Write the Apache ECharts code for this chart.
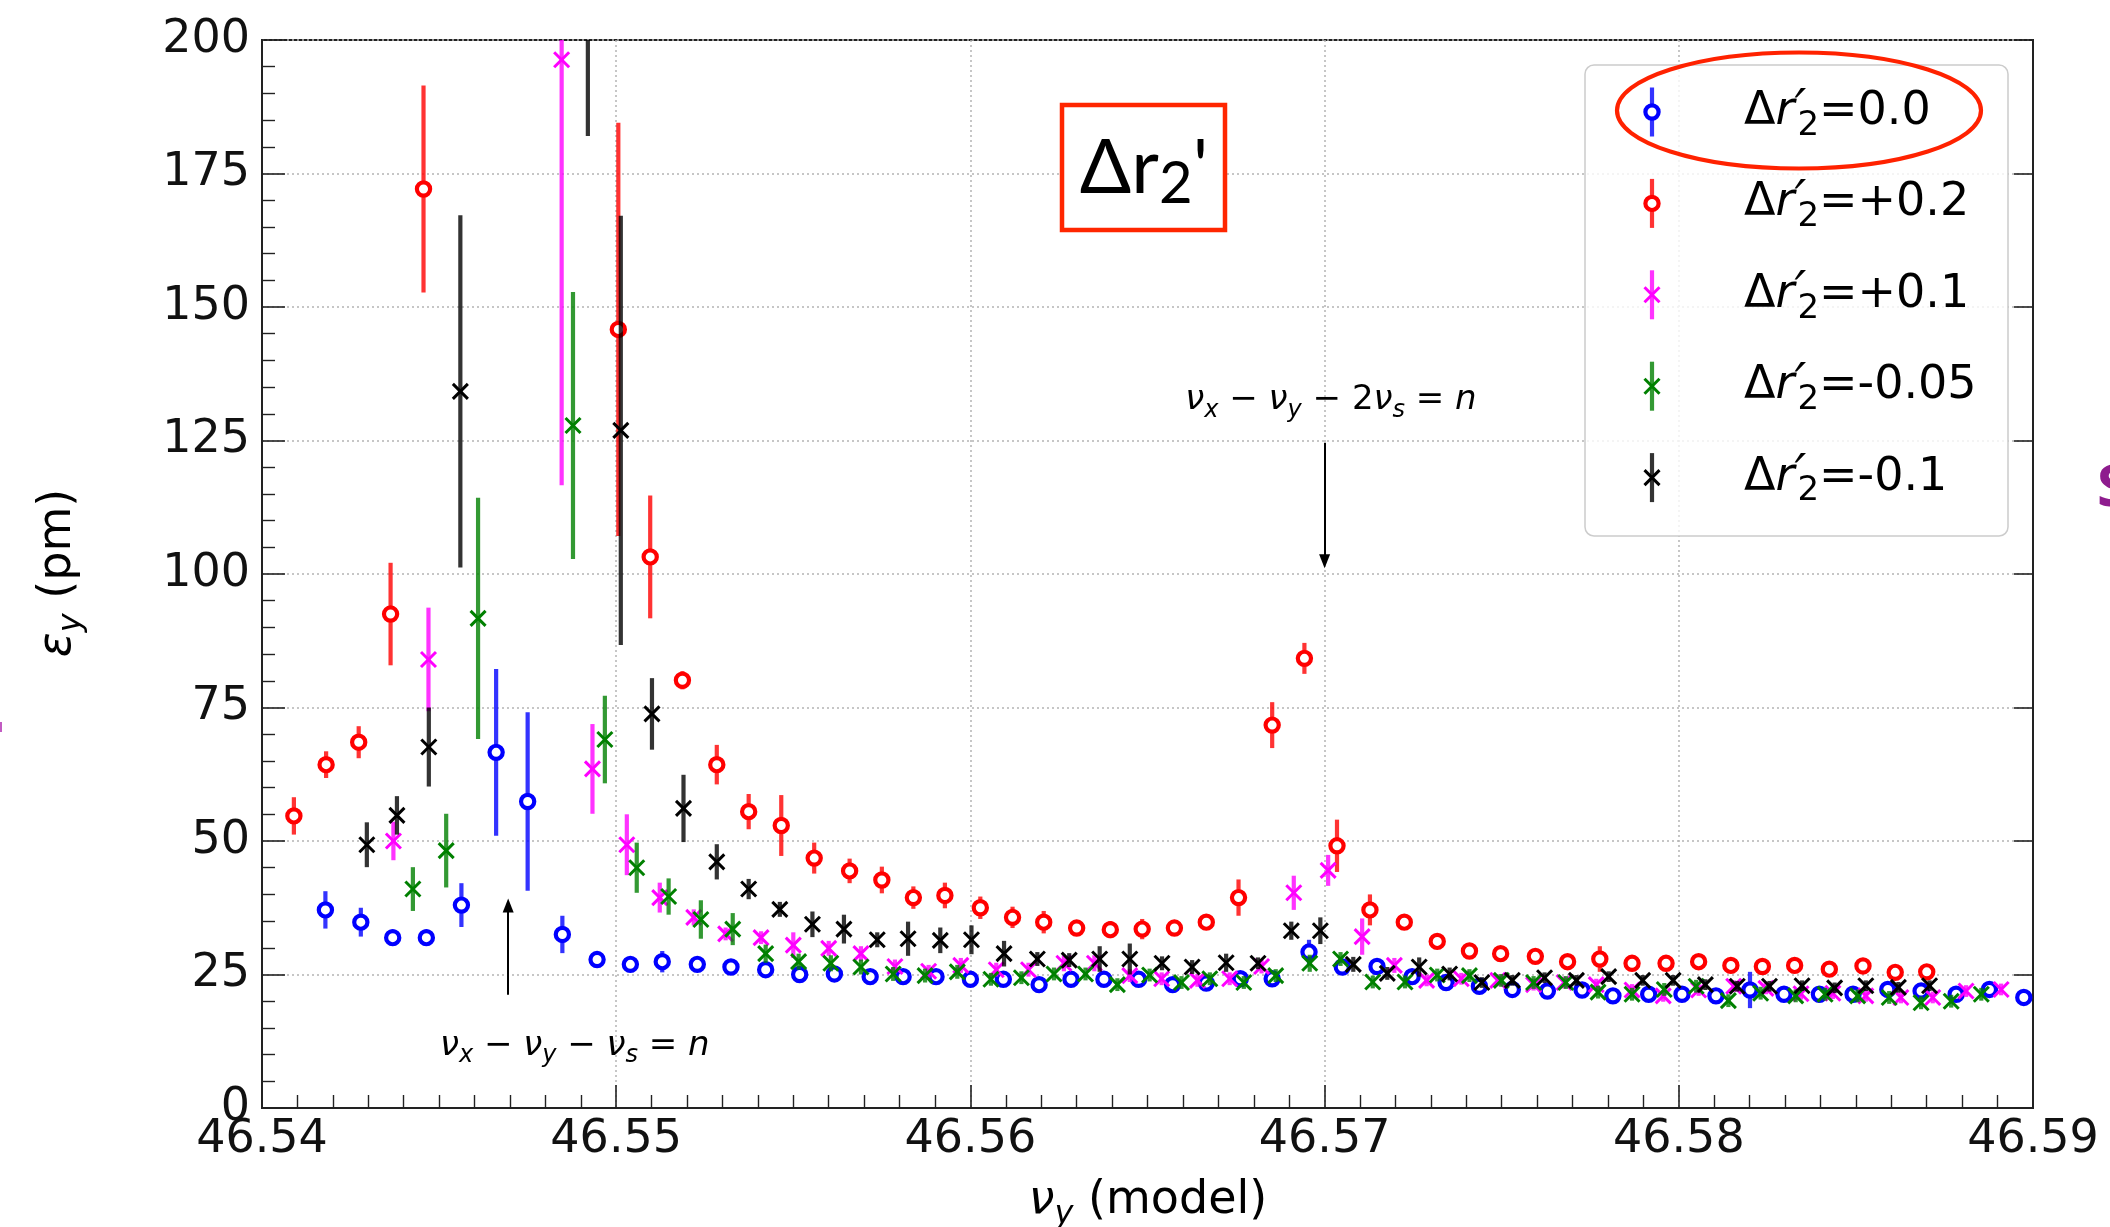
<!DOCTYPE html>
<html>
<head>
<meta charset="utf-8">
<script src="https://cdn.jsdelivr.net/npm/echarts@6/dist/echarts.min.js"></script>
<style>
html,body{margin:0;padding:0;background:#ffffff;}
#c{width:2110px;height:1227px;}
</style>
</head>
<body>
<div id="c"></div>
<script>
// ---------------- data ----------------
const xTickLabels = ['46.54','46.55','46.56','46.57','46.58','46.59'];
const yTickLabels = ['0','25','50','75','100','125','150','175','200'];
const legendLabels = ['0.0','+0.2','+0.1','-0.05','-0.1'];

// Δr2' = 0.0 (blue)
const nuBlue = [46.54179,46.54279,46.54369,46.54464,46.54563,46.54661,46.54750,46.54848,46.54946,46.55040,46.55130,46.55229,46.55324,46.55422,46.55518,46.55616,46.55717,46.55810,46.55903,46.56000,46.56093,46.56194,46.56284,46.56377,46.56475,46.56571,46.56666,46.56762,46.56852,46.56956,46.57050,46.57148,46.57247,46.57343,46.57437,46.57530,46.57629,46.57727,46.57814,46.57915,46.58009,46.58105,46.58201,46.58297,46.58397,46.58492,46.58590,46.58684,46.58783,46.58877,46.58974];
const epsBlue = [37.1,34.8,31.9,31.9,38.0,66.6,57.4,32.5,27.8,26.9,27.4,26.9,26.4,25.9,25.0,25.1,24.6,24.6,24.6,24.1,24.1,23.1,24.1,24.1,24.1,23.1,23.4,24.2,24.2,29.2,26.4,26.5,24.6,23.5,22.8,22.2,21.9,22.1,21.0,21.3,21.3,21.0,22.1,21.3,21.3,21.3,22.2,21.9,21.3,22.2,20.7];
const errBlue = [3.5,2.7,1.5,1.5,4.1,15.6,16.7,3.5,1.2,1.1,2.0,1.1,1.0,1.1,1.1,1.0,1.0,1.0,1.0,1.0,1.0,1.0,1.0,1.0,1.0,1.0,1.0,1.0,1.0,2.3,1.2,1.0,1.0,1.0,1.0,1.0,1.0,1.0,1.0,1.0,1.0,1.0,3.4,1.0,1.0,1.0,1.0,1.0,1.0,1.0,1.0];

// Δr2' = +0.2 (red)
const nuRed = [46.54090,46.54181,46.54273,46.54363,46.54456,46.55006,46.55096,46.55187,46.55284,46.55374,46.55466,46.55559,46.55659,46.55750,46.55839,46.55928,46.56028,46.56119,46.56207,46.56300,46.56395,46.56485,46.56576,46.56666,46.56757,46.56852,46.56943,46.57035,46.57128,46.57225,46.57318,46.57409,46.57497,46.57595,46.57686,46.57777,46.57868,46.57964,46.58056,46.58147,46.58236,46.58327,46.58425,46.58520,46.58611,46.58700];
const epsRed = [54.7,64.3,68.5,92.5,172.1,145.8,103.2,80.1,64.3,55.5,52.9,46.8,44.4,42.7,39.4,39.8,37.5,35.7,34.8,33.7,33.4,33.5,33.7,34.8,39.4,71.7,84.2,49.1,37.1,34.8,31.2,29.4,28.9,28.4,27.4,27.9,27.1,27.1,27.4,26.7,26.5,26.7,26.0,26.6,25.4,25.5];
const errRed = [3.5,2.5,3.0,9.6,19.4,38.7,11.5,1.7,3.7,3.3,5.7,2.9,2.3,2.5,2.1,2.4,2.1,2.0,2.1,1.2,1.6,1.9,1.1,1.3,3.4,4.3,2.9,4.9,2.9,1.2,1.0,1.0,1.1,1.0,1.0,2.4,1.0,1.0,1.0,1.0,1.0,1.0,1.0,1.3,1.0,1.2];

// Δr2' = +0.1 (magenta)
const nuMag = [46.54371,46.54470,46.54846,46.54933,46.55030,46.55123,46.55219,46.55309,46.55409,46.55500,46.55600,46.55691,46.55787,46.55882,46.55973,46.56073,46.56164,46.56264,46.56350,46.56450,46.56540,46.56641,46.56732,46.56822,46.56913,46.57010,46.57106,46.57197,46.57288,46.57386,46.57489,46.57590,46.57676,46.57767,46.57868,46.57956,46.58056,46.58155,46.58246,46.58345,46.58435,46.58528,46.58627,46.58717,46.58811,46.58910];
const epsMag = [50.0,84.0,196.3,63.5,49.3,39.4,35.7,32.6,31.9,30.5,29.9,28.9,26.5,25.6,26.7,25.9,25.9,27.1,27.1,24.8,24.2,23.9,24.2,26.5,40.3,44.5,32.1,26.7,23.9,24.2,23.9,23.1,23.5,23.1,22.1,21.0,22.1,22.8,22.4,21.4,21.5,21.0,20.7,20.7,21.9,22.2];
const errMag = [3.6,9.7,79.7,8.4,5.7,2.8,1.5,1.2,1.2,2.4,1.4,1.4,1.3,1.2,1.4,1.3,1.3,1.5,1.5,1.2,1.2,1.2,1.2,1.3,3.2,2.9,3.4,1.4,1.1,1.1,1.1,1.1,1.1,1.1,1.1,1.1,1.1,1.1,1.1,1.1,1.1,1.1,1.1,1.1,1.1,1.1];

// Δr2' = -0.05 (green)
const nuGreen = [46.54426,46.54520,46.54610,46.54878,46.54968,46.55058,46.55148,46.55239,46.55329,46.55422,46.55515,46.55606,46.55691,46.55782,46.55872,46.55963,46.56058,46.56144,46.56236,46.56325,46.56415,46.56506,46.56596,46.56676,46.56772,46.56862,46.56958,46.57045,46.57136,46.57227,46.57318,46.57409,46.57499,46.57590,46.57681,46.57772,46.57868,46.57959,46.58049,46.58140,46.58231,46.58330,46.58413,46.58505,46.58594,46.58684,46.58769,46.58854];
const epsGreen = [41.0,48.2,91.7,127.8,69.0,45.0,39.6,35.3,33.5,28.9,27.4,27.1,26.4,25.1,24.8,25.5,24.1,24.4,25.1,25.1,23.1,24.9,23.5,24.2,23.5,24.8,27.1,27.9,23.6,23.6,24.9,24.8,23.9,23.5,23.5,21.7,21.3,22.2,22.8,20.1,21.5,21.0,21.3,21.0,20.7,19.7,20.0,21.3];
const errGreen = [4.1,6.9,22.6,25.0,8.2,4.7,3.4,3.6,3.0,1.7,1.5,1.5,1.4,1.3,1.3,1.3,1.2,1.2,1.2,1.2,1.2,1.2,1.2,1.2,1.2,1.2,1.6,1.3,1.2,1.2,1.2,1.2,1.2,1.2,1.2,1.2,1.2,1.2,1.2,1.2,1.2,1.2,1.2,1.2,1.2,1.2,1.2,1.2];

// Δr2' = -0.1 (black)
const nuBlack = [46.54296,46.54381,46.54471,46.54560,46.54920,46.55013,46.55101,46.55190,46.55284,46.55374,46.55462,46.55554,46.55643,46.55737,46.55824,46.55915,46.56003,46.56095,46.56189,46.56279,46.56365,46.56450,46.56541,46.56626,46.56722,46.56812,46.56906,46.56988,46.57081,46.57177,46.57267,46.57353,46.57444,46.57530,46.57621,46.57711,46.57802,46.57898,46.57984,46.58075,46.58165,46.58256,46.58348,46.58440,46.58528,46.58620,46.58708];
const epsBlack = [49.3,54.8,67.6,134.2,220.0,126.9,73.8,56.1,46.1,41.0,37.2,34.4,33.5,31.5,31.7,31.4,31.5,28.9,27.9,27.7,27.9,27.9,27.1,26.4,27.2,27.1,33.2,33.2,26.9,25.2,26.4,25.1,23.5,23.9,24.4,23.9,24.6,23.9,23.9,23.1,22.8,22.8,22.9,22.5,22.9,22.6,22.9];
const errBlack = [4.2,3.6,7.4,33.0,38.0,40.2,6.7,6.3,3.3,1.9,1.4,2.4,2.7,1.4,3.2,2.4,2.7,2.4,1.3,1.3,2.4,2.9,1.3,1.3,1.7,1.1,1.7,2.5,1.4,1.2,1.8,1.2,1.0,1.0,1.0,1.0,1.0,1.0,1.0,1.0,1.0,1.0,1.0,1.0,1.0,1.0,1.0];

// annotation anchors (data coordinates)
const arrow1 = [[46.54695, 21.2], [46.54695, 37.9]];
const arrow2 = [[46.57000, 124.6], [46.57000, 102.4]];
const note1Pos = [46.54883, 11.6];
const note2Pos = [46.57018, 132.5];

// ---------------- chart ----------------
const FONT = '"DejaVu Sans", sans-serif';
const defs = [
  {label: legendLabels[0], nu: nuBlue,  eps: epsBlue,  err: errBlue,  color: '#0000ff', marker: 'o'},
  {label: legendLabels[1], nu: nuRed,   eps: epsRed,   err: errRed,   color: '#ff0000', marker: 'o'},
  {label: legendLabels[2], nu: nuMag,   eps: epsMag,   err: errMag,   color: '#ff00ff', marker: 'x'},
  {label: legendLabels[3], nu: nuGreen, eps: epsGreen, err: errGreen, color: '#008000', marker: 'x'},
  {label: legendLabels[4], nu: nuBlack, eps: epsBlack, err: errBlack, color: '#000000', marker: 'x'}
];

function markerEl(type, cx, cy, color) {
  if (type === 'o') {
    return {type: 'circle', shape: {cx: cx, cy: cy, r: 6.6},
            style: {fill: '#ffffff', stroke: color, lineWidth: 4.2}};
  }
  const h = 7.5;
  return {type: 'group', children: [
    {type: 'line', shape: {x1: cx - h, y1: cy - h, x2: cx + h, y2: cy + h}, style: {stroke: color, lineWidth: 3}},
    {type: 'line', shape: {x1: cx - h, y1: cy + h, x2: cx + h, y2: cy - h}, style: {stroke: color, lineWidth: 3}}
  ]};
}

function makeRender(color, marker) {
  return function (params, api) {
    const x = api.value(0), y = api.value(1), e = api.value(2);
    const c = api.coord([x, y]);
    const t = api.coord([x, y + e]);
    const b = api.coord([x, y - e]);
    return {type: 'group', children: [
      {type: 'line', shape: {x1: c[0], y1: t[1], x2: c[0], y2: b[1]},
       style: {stroke: color, lineWidth: 4.2, opacity: 0.8}},
      markerEl(marker, c[0], c[1], color)
    ]};
  };
}

const series = defs.map(function (d, i) {
  return {
    type: 'custom',
    name: d.label,
    coordinateSystem: 'cartesian2d',
    clip: true,
    renderItem: makeRender(d.color, d.marker),
    encode: {x: 0, y: 1},
    data: d.nu.map(function (v, k) { return [v, d.eps[k], d.err[k]]; }),
    z: 2 + i
  };
});

// arrows as markLine on a helper series
series.push({
  type: 'line', data: [], silent: true,
  markLine: {
    silent: true, animation: false,
    symbol: ['none', 'triangle'], symbolSize: [11, 14],
    label: {show: false},
    lineStyle: {color: '#000000', width: 2, type: 'solid'},
    data: [
      [{coord: arrow1[0]}, {coord: arrow1[1]}],
      [{coord: arrow2[0]}, {coord: arrow2[1]}]
    ]
  },
  z: 10
});

const chart = echarts.init(document.getElementById('c'), null, {renderer: 'canvas'});

const axisLabelStyle = {fontFamily: FONT, fontSize: 46, color: '#111111'};

chart.setOption({
  animation: false,
  backgroundColor: '#ffffff',
  grid: {left: 262, top: 40, width: 1771, height: 1068, show: true,
         borderColor: '#222222', borderWidth: 2, backgroundColor: 'transparent'},
  xAxis: {
    type: 'value', min: 46.54, max: 46.59, interval: 0.01,
    axisLine: {show: true, onZero: false, lineStyle: {color: '#222222', width: 2}},
    axisTick: {show: true, inside: true, length: 23, lineStyle: {color: '#222222', width: 1.6}},
    minorTick: {show: true, splitNumber: 10, length: 13, lineStyle: {color: '#222222', width: 1.4}},
    axisLabel: Object.assign({margin: 9, formatter: function (v) {
      const idx = Math.round((v - 46.54) / 0.01);
      return xTickLabels[idx] !== undefined ? xTickLabels[idx] : v.toFixed(2);
    }}, axisLabelStyle),
    splitLine: {show: true, lineStyle: {color: '#b4b4b4', width: 1.5, type: [2, 3]}},
    minorSplitLine: {show: false}
  },
  yAxis: [{
    type: 'value', min: 0, max: 200, interval: 25,
    axisLine: {show: true, onZero: false, lineStyle: {color: '#222222', width: 2}},
    axisTick: {show: true, inside: true, length: 23, lineStyle: {color: '#222222', width: 1.6}},
    minorTick: {show: true, splitNumber: 5, length: 13, lineStyle: {color: '#222222', width: 1.4}},
    axisLabel: Object.assign({margin: 12, formatter: function (v) {
      const idx = Math.round(v / 25);
      return yTickLabels[idx] !== undefined ? yTickLabels[idx] : String(v);
    }}, axisLabelStyle),
    splitLine: {show: true, lineStyle: {color: '#b4b4b4', width: 1.5, type: [2, 3]}}
  }, {
    type: 'value', min: 0, max: 200, interval: 25, position: 'right',
    axisLine: {show: true, onZero: false, lineStyle: {color: '#222222', width: 2}},
    axisTick: {show: true, inside: true, length: 19, lineStyle: {color: '#222222', width: 1.6}},
    axisLabel: {show: false},
    splitLine: {show: false}
  }],
  series: series
});

// ---------------- decorations: titles, legend, annotations ----------------
const mathRich = {
  n: {fontFamily: FONT, fontSize: 46, color: '#111111', lineHeight: 60},
  i: {fontFamily: FONT, fontSize: 46, fontStyle: 'italic', color: '#111111', lineHeight: 60},
  s: {fontFamily: FONT, fontSize: 32, fontStyle: 'italic', color: '#111111', lineHeight: 36, verticalAlign: 'bottom'}
};

const noteRich = {
  i: {fontFamily: FONT, fontSize: 34, fontStyle: 'italic', color: '#222222', lineHeight: 44},
  n: {fontFamily: FONT, fontSize: 34, color: '#222222', lineHeight: 44},
  s: {fontFamily: FONT, fontSize: 24, fontStyle: 'italic', color: '#222222', lineHeight: 24, verticalAlign: 'bottom'}
};

const legRich = {
  m: {fontFamily: FONT, fontSize: 46, color: '#111111', lineHeight: 62},
  r: {fontFamily: FONT, fontSize: 46, fontStyle: 'italic', color: '#111111', lineHeight: 62},
  p: {fontFamily: FONT, fontSize: 52, fontStyle: 'italic', color: '#111111', lineHeight: 62, width: 3},
  s: {fontFamily: FONT, fontSize: 34, color: '#111111', lineHeight: 34, verticalAlign: 'bottom'}
};

const graphics = [];

// axis titles
graphics.push({
  type: 'text', x: 1148, y: 1201, z: 50,
  style: {text: '{i|ν}{s|y}{n| (model)}', rich: mathRich, align: 'center', verticalAlign: 'middle'}
});
graphics.push({
  type: 'text', x: 58, y: 573, rotation: Math.PI / 2, z: 50,
  style: {text: '{i|ε}{s|y}{n| (pm)}', rich: mathRich, align: 'center', verticalAlign: 'middle'}
});

// annotations
const p1 = chart.convertToPixel({gridIndex: 0}, note1Pos);
const p2 = chart.convertToPixel({gridIndex: 0}, note2Pos);
graphics.push({
  type: 'text', x: p1[0], y: p1[1], z: 50,
  style: {text: '{i|ν}{s|x}{n| − }{i|ν}{s|y}{n| − }{i|ν}{s|s}{n| = }{i|n}', rich: noteRich, align: 'center', verticalAlign: 'middle'}
});
graphics.push({
  type: 'text', x: p2[0], y: p2[1], z: 50,
  style: {text: '{i|ν}{s|x}{n| − }{i|ν}{s|y}{n| − 2}{i|ν}{s|s}{n| = }{i|n}', rich: noteRich, align: 'center', verticalAlign: 'middle'}
});

// boxed label
graphics.push({
  type: 'rect', z: 60,
  shape: {x: 1062, y: 105, width: 163, height: 125},
  style: {fill: '#ffffff', stroke: '#ff2600', lineWidth: 4.5}
});
graphics.push({
  type: 'text', x: 1144, y: 168, z: 61,
  style: {
    text: '{a|Δr}{b|2}{a|\'}',
    align: 'center', verticalAlign: 'middle',
    rich: {
      a: {fontFamily: 'Lato, "Open Sans", sans-serif', fontSize: 76, color: '#000000', lineHeight: 90},
      b: {fontFamily: 'Lato, "Open Sans", sans-serif', fontSize: 58, color: '#000000', lineHeight: 64, verticalAlign: 'bottom'}
    }
  }
});

// legend
graphics.push({
  type: 'rect', z: 80,
  shape: {x: 1585, y: 65, width: 423, height: 471, r: 9},
  style: {fill: 'rgba(255,255,255,0.8)', stroke: '#cccccc', lineWidth: 1.5}
});
defs.forEach(function (d, i) {
  const cy = 112 + i * 91.4;
  const cx = 1652;
  graphics.push({
    type: 'line', z: 81,
    shape: {x1: cx, y1: cy - 24.5, x2: cx, y2: cy + 24.5},
    style: {stroke: d.color, lineWidth: 4.2, opacity: 0.8}
  });
  const m = markerEl(d.marker, cx, cy, d.color);
  m.z = 82;
  if (m.children) m.children.forEach(function (c) { c.z = 82; });
  graphics.push(m);
  graphics.push({
    type: 'text', x: 1744, y: cy, z: 83,
    style: {text: '{m|Δ}{r|r}{p|′}{s|2}{m|=' + d.label + '}', rich: legRich, align: 'left', verticalAlign: 'middle'}
  });
});
graphics.push({
  type: 'ellipse', z: 90,
  shape: {cx: 1799, cy: 110.5, rx: 182, ry: 58},
  style: {fill: 'none', stroke: '#ff2200', lineWidth: 4.2}
});

// slide fragments at the picture edges
graphics.push({
  type: 'text', x: 2097, y: 489, z: 50,
  style: {text: 'S', fontFamily: '"Open Sans", sans-serif', fontWeight: 'bold', fontSize: 58, fill: '#8e1c8e', align: 'left', verticalAlign: 'middle'}
});
graphics.push({
  type: 'rect', z: 50, shape: {x: 0, y: 722, width: 2, height: 10},
  style: {fill: '#c25bc2'}
});

chart.setOption({graphic: graphics});
</script>
</body>
</html>
